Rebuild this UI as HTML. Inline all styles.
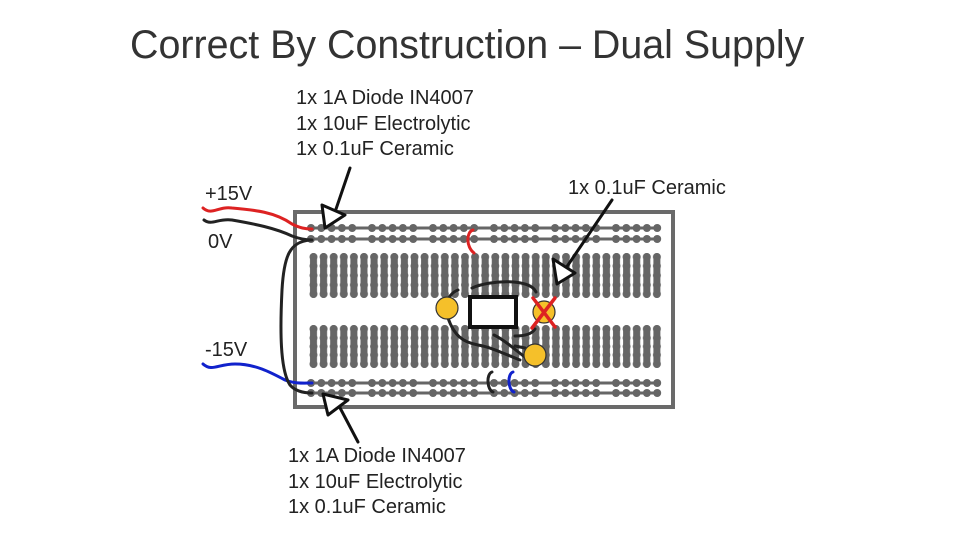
<!DOCTYPE html>
<html><head><style>
body{margin:0;background:#fff;width:960px;height:540px;overflow:hidden;font-family:"Liberation Sans",sans-serif}
</style></head><body>
<svg width="960" height="540" viewBox="0 0 960 540" xmlns="http://www.w3.org/2000/svg" font-family="Liberation Sans, sans-serif">
<defs>
<pattern id="rail" x="306" y="0" width="61" height="540" patternUnits="userSpaceOnUse">
<g fill="#666">
<circle cx="5" cy="228" r="4"/><circle cx="15.3" cy="228" r="4"/><circle cx="25.6" cy="228" r="4"/><circle cx="35.9" cy="228" r="4"/><circle cx="46.2" cy="228" r="4"/>
<circle cx="5" cy="239" r="4"/><circle cx="15.3" cy="239" r="4"/><circle cx="25.6" cy="239" r="4"/><circle cx="35.9" cy="239" r="4"/><circle cx="46.2" cy="239" r="4"/>
<circle cx="5" cy="383" r="4"/><circle cx="15.3" cy="383" r="4"/><circle cx="25.6" cy="383" r="4"/><circle cx="35.9" cy="383" r="4"/><circle cx="46.2" cy="383" r="4"/>
<circle cx="5" cy="393" r="4"/><circle cx="15.3" cy="393" r="4"/><circle cx="25.6" cy="393" r="4"/><circle cx="35.9" cy="393" r="4"/><circle cx="46.2" cy="393" r="4"/>
</g>
</pattern>
<pattern id="cols" x="308.5" y="0" width="10.1" height="540" patternUnits="userSpaceOnUse">
<g fill="#666">
<rect x="1.5" y="253" width="7" height="45" rx="3.5"/>
<circle cx="5" cy="257" r="4"/><circle cx="5" cy="266" r="4"/><circle cx="5" cy="275.5" r="4"/><circle cx="5" cy="285" r="4"/><circle cx="5" cy="294" r="4"/>
<rect x="1.5" y="325" width="7" height="43" rx="3.5"/>
<circle cx="5" cy="329" r="4"/><circle cx="5" cy="338" r="4"/><circle cx="5" cy="346.5" r="4"/><circle cx="5" cy="355" r="4"/><circle cx="5" cy="364" r="4"/>
</g>
</pattern>
</defs>
<text x="130" y="58" font-size="39.4" fill="#333">Correct By Construction – Dual Supply</text>
<g font-size="20" fill="#222">
<text x="296" y="104">1x 1A Diode IN4007</text>
<text x="296" y="130">1x 10uF Electrolytic</text>
<text x="296" y="155">1x 0.1uF Ceramic</text>
<text x="568" y="194">1x 0.1uF Ceramic</text>
<text x="205" y="200">+15V</text>
<text x="208" y="248">0V</text>
<text x="205" y="356">-15V</text>
<text x="288" y="462">1x 1A Diode IN4007</text>
<text x="288" y="488">1x 10uF Electrolytic</text>
<text x="288" y="513">1x 0.1uF Ceramic</text>
</g>
<rect x="295" y="212" width="378" height="195" fill="#fff" stroke="#6a6a6a" stroke-width="4"/>
<g stroke="#666" stroke-width="3">
<line x1="310" y1="228" x2="658" y2="228"/><line x1="310" y1="239" x2="658" y2="239"/>
<line x1="310" y1="383" x2="658" y2="383"/><line x1="310" y1="393" x2="658" y2="393"/>
</g>
<rect x="306" y="222" width="356" height="180" fill="url(#rail)"/>
<rect x="308" y="248" width="354" height="125" fill="url(#cols)"/>
<g fill="none" stroke-width="3" stroke-linecap="round">
<path d="M203 208 C212 216,218 206,232 208 C255 210,275 212,292 224 C300 228,305 229,312 229" stroke="#d22"/>
<path d="M204 220 C212 226,218 218,232 220 C255 224,275 228,292 236 C300 239,305 240,312 240" stroke="#222"/>
<path d="M203 364 C212 372,218 364,235 364 C255 364,270 372,285 380 C295 384,305 383,312 383" stroke="#12c"/>
<path d="M310 240 C290 242,284 255,282 290 C280 330,280 370,290 385 C296 392,305 393,312 393" stroke="#222"/>
<path d="M473 230 C466 232,466 247,474 253" stroke="#d22"/>
<path d="M492 372 C486 374,487 390,493 392" stroke="#222"/>
<path d="M513 372 C507 374,508 390,514 392" stroke="#12c"/>
<path d="M444 306 C448 298,452 292,458 290" stroke="#222"/>
<path d="M472 288 C490 280,530 278,536 292" stroke="#222"/>
<path d="M448 318 C454 335,462 342,478 345 C490 347,500 352,520 360" stroke="#222"/>
<path d="M494 335 C505 340,515 350,525 357" stroke="#222"/>
<path d="M515 336 C525 336,532 334,535 329" stroke="#222"/>
<path d="M515 346 L525 348" stroke="#222"/>
<path d="M350 168 L335 212" stroke="#111"/>
<path d="M612 200 L566 268" stroke="#111"/>
<path d="M358 442 L338 404" stroke="#111"/>
</g>
<g fill="#fff" stroke="#111" stroke-width="3" stroke-linejoin="round">
<polygon points="322,205 345,215 325,228"/>
<polygon points="553,259 575,273 557,284"/>
<polygon points="323,394 348,400 328,415"/>
</g>
<circle cx="447" cy="308" r="11" fill="#f5c02a" stroke="#333" stroke-width="1.2"/>
<circle cx="544" cy="312" r="11" fill="#f5c02a" stroke="#333" stroke-width="1.2"/>
<circle cx="535" cy="355" r="11" fill="#f5c02a" stroke="#333" stroke-width="1.2"/>
<rect x="470" y="297" width="46" height="30" fill="#fff" stroke="#111" stroke-width="4"/>
<g stroke="#d22" stroke-width="3.5" stroke-linecap="round">
<line x1="533" y1="298" x2="555" y2="327"/>
<line x1="555" y1="298" x2="532" y2="328"/>
</g>
</svg>
</body></html>
